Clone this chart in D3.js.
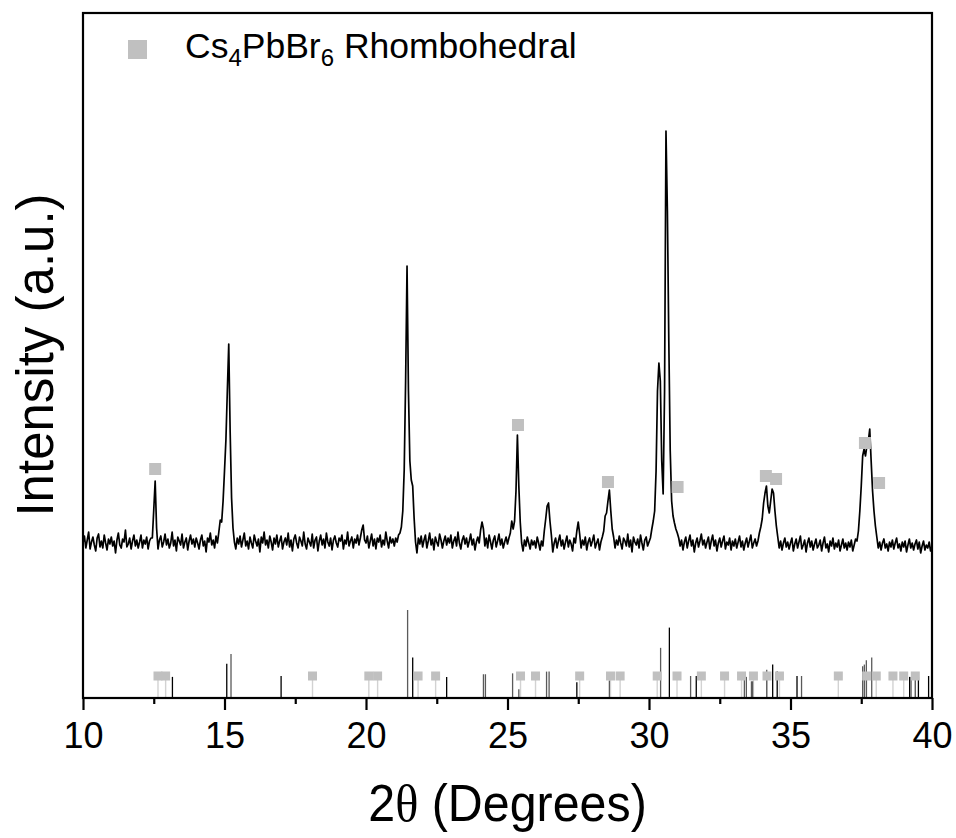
<!DOCTYPE html>
<html><head><meta charset="utf-8">
<script src="https://cdn.jsdelivr.net/npm/d3@7/dist/d3.min.js"></script>
<style>body{margin:0;background:#fff}svg{display:block}</style>
</head><body>
<svg id="chart" width="956" height="838"></svg>
<script>
// ---------------- DATA ----------------
// XRD pattern, sampled every 0.05 deg from 10.00 to 40.00 (arbitrary units)
const angleStart = 10;
const angleStep = 0.05;
const intensity = [
155,162,150,158,166,149,156,161,153,147,160,164,151,157,150,163,155,148,159,154,
161,152,157,145,158,165,153,150,159,156,168,151,154,160,149,157,163,152,158,150,
156,163,150,158,154,161,149,157,160,160,188,217,170,149,158,162,151,156,164,153,
159,150,155,166,152,158,147,161,157,153,164,150,156,160,148,157,163,154,159,151,
160,155,149,158,163,152,157,146,160,156,165,153,158,150,162,155,166,178,176,197,
227,258,307,354,266,200,170,156,149,160,154,162,151,158,165,152,157,149,161,155,
150,163,157,152,159,146,161,155,166,153,158,150,162,156,148,160,154,163,151,157,
162,149,156,160,153,165,151,158,147,159,163,155,150,161,157,152,166,154,149,160,
156,152,164,150,158,161,147,157,163,153,159,150,165,156,152,160,148,158,162,155,
151,160,157,163,149,158,154,166,152,157,161,150,159,155,163,153,160,168,173,158,
155,162,150,157,164,152,159,149,160,156,163,151,158,153,166,157,150,161,155,159,
152,160,156,163,165,171,187,228,317,432,307,237,218,212,180,156,145,160,154,162,
151,158,163,150,157,165,153,159,148,161,156,152,164,158,150,157,162,153,160,155,
163,150,157,161,152,166,155,149,158,162,154,160,151,157,164,153,159,148,156,161,
155,168,176,169,152,160,150,163,156,149,158,162,151,157,164,153,159,150,156,161,
154,160,165,177,169,177,207,263,212,176,155,147,158,152,161,155,149,158,153,157,
150,161,155,148,157,152,167,179,192,195,177,163,146,155,160,150,157,163,152,158,
149,156,162,151,158,154,147,160,155,167,176,164,150,158,153,161,148,156,160,152,
157,163,150,155,159,148,156,161,167,182,185,197,208,187,169,161,150,158,153,162,
155,149,160,157,152,164,151,158,146,161,156,153,159,150,163,155,148,158,161,152,
156,160,169,177,187,227,307,335,317,237,204,307,567,487,357,247,197,182,175,169,
165,160,152,158,148,156,161,150,157,163,152,158,146,155,160,151,157,164,153,158,
150,156,161,149,157,163,152,158,147,155,160,151,157,162,149,156,153,160,148,157,
152,159,150,156,162,151,157,148,155,160,151,157,163,150,155,159,152,157,165,171,
179,195,205,212,192,185,197,209,205,187,172,161,150,157,148,155,160,151,156,149,
155,160,147,154,159,150,156,162,149,153,158,146,155,160,151,157,148,154,159,150,
153,158,147,155,161,150,154,146,157,152,160,149,155,151,158,147,153,159,150,155,
148,156,151,158,147,153,159,157,167,187,212,242,249,242,252,257,269,237,207,187,
172,161,150,156,148,155,159,150,154,147,156,151,158,149,155,160,150,154,147,156,
151,157,146,153,159,150,155,148,154,158,149,156,145,152,157,148,153,150,156,147,
152
];

// Cs4PbBr6 (rhombohedral) markers placed on the measured peaks
const peakMarkAngle     = [12.55, 25.37, 28.55, 31.01, 34.13, 34.49, 37.63, 38.13];
const peakMarkIntensity = [229,   273,   216,   211,   222,   219,   255,   215];

// Reference stick pattern (dark sticks), relative intensity %
const refAngle     = [13.16,15.08,15.23,17.00,21.47,21.65,22.85,24.15,24.22,25.18,25.40,26.38,26.47,27.45,28.60,30.41,30.72,31.47,31.67,33.37,33.44,33.62,33.66,34.16,34.37,34.53,35.23,35.39,37.55,37.61,37.68,37.87,39.21,39.26,39.41,39.52,39.88];
const refIntensity = [24,   39,   50,   25,   100,  46,   24,   27,   27,   28,   10,   30,   30,   18,   20,   57,   80,   25,   25,   24,   24,   19,   19,   32,   38,   30,   25,   25,   36,   38,   43,   46,   24,   24,   24,   24,   25];
const refTone      = ["k","k","g","k","g","k","k","g","g","g","g","g","g","k","g","g","k","g","k","g","g","g","g","g","k","k","k","g","g","g","g","g","k","g","g","k","k"];

// Cs4PbBr6 rhombohedral reference positions (light sticks with square markers)
const cs4Angle = [12.65,12.92,18.11,20.10,20.41,21.84,22.46,25.46,25.99,27.55,28.64,28.98,30.29,30.99,31.85,32.67,33.27,33.69,34.17,34.61,36.69,37.69,38.03,38.62,39.00,39.41];
const cs4Level = 25;

const xTicks = [10, 15, 20, 25, 30, 35, 40];
const xMinorTicks = [12.5, 17.5, 22.5, 27.5, 32.5, 37.5];
const xDomain = [10, 40];
const yDomain = [0, 685];
const xTitle = ["2", "θ", " (Degrees)"];
const yTitle = "Intensity (a.u.)";
const legendParts = [["Cs", 0], ["4", 1], ["PbBr", 0], ["6", 1], [" Rhombohedral", 0]];

// ---------------- CHART ----------------
const svg = d3.select("#chart");
const L = 83, R = 932, T = 13, B = 698;
const FONT = "'Liberation Sans', Arial, Helvetica, sans-serif";
const markColor = "#c0c0c0";

const x = d3.scaleLinear().domain(xDomain).range([L, R]);
const y = d3.scaleLinear().domain(yDomain).range([B, T]);
const yStick = d3.scaleLinear().domain([0, 100]).range([B, 610]);

// Cs4PbBr6 reference sticks
svg.append("g").selectAll("line").data(cs4Angle).join("line")
  .attr("x1", d => x(d)).attr("x2", d => x(d))
  .attr("y1", B).attr("y2", yStick(cs4Level))
  .attr("stroke", "#d2d2d2").attr("stroke-width", 1.4);

// dark reference sticks
svg.append("g").selectAll("line").data(refAngle).join("line")
  .attr("x1", d => x(d)).attr("x2", d => x(d))
  .attr("y1", B).attr("y2", (d, i) => yStick(refIntensity[i]))
  .attr("stroke", (d, i) => refTone[i] === "k" ? "#000" : "#5a5a5a")
  .attr("stroke-width", 1.3);

// square markers on reference sticks
const sm = 9;
svg.append("g").selectAll("rect").data(cs4Angle).join("rect")
  .attr("x", d => x(d) - sm / 2).attr("y", yStick(cs4Level) - sm / 2)
  .attr("width", sm).attr("height", sm).attr("fill", markColor);

// XRD pattern
const pts = intensity.map((v, i) => [angleStart + i * angleStep, v]);
svg.append("path").datum(pts)
  .attr("fill", "none").attr("stroke", "#000").attr("stroke-width", 1.7)
  .attr("stroke-linejoin", "round")
  .attr("d", d3.line().x(d => x(d[0])).y(d => y(d[1])));

// markers on pattern peaks
const pm = 12;
svg.append("g").selectAll("rect").data(peakMarkAngle).join("rect")
  .attr("x", d => x(d) - pm / 2).attr("y", (d, i) => y(peakMarkIntensity[i]) - pm / 2)
  .attr("width", pm).attr("height", pm).attr("fill", markColor);

// frame
svg.append("rect").attr("x", L).attr("y", T).attr("width", R - L).attr("height", B - T)
  .attr("fill", "none").attr("stroke", "#000").attr("stroke-width", 2.2);

// bottom axis
const ax = svg.append("g").attr("transform", `translate(0,${B})`)
  .call(d3.axisBottom(x).tickValues(xTicks).tickFormat(d3.format("d"))
        .tickSize(12).tickPadding(12).tickSizeOuter(0));
ax.select(".domain").remove();
ax.selectAll(".tick line").attr("stroke", "#000").attr("stroke-width", 2.2);
ax.selectAll(".tick text").attr("font-family", FONT).attr("font-size", 36).attr("fill", "#000");
const axm = svg.append("g").attr("transform", `translate(0,${B})`)
  .call(d3.axisBottom(x).tickValues(xMinorTicks).tickFormat("").tickSize(6).tickSizeOuter(0));
axm.select(".domain").remove();
axm.selectAll(".tick line").attr("stroke", "#000").attr("stroke-width", 2.2);

// x title
const xt = svg.append("text").attr("x", 0).attr("y", 0)
  .attr("transform", `translate(${(L + R) / 2},821) scale(0.93,1)`)
  .attr("text-anchor", "middle").attr("font-family", FONT).attr("font-size", 52).attr("fill", "#000");
xt.append("tspan").text(xTitle[0]);
xt.append("tspan").attr("font-family", "'Liberation Serif', 'DejaVu Serif', serif").text(xTitle[1]);
xt.append("tspan").text(xTitle[2]);

// y title
svg.append("text").attr("transform", `translate(53,355) rotate(-90)`)
  .attr("text-anchor", "middle").attr("font-family", FONT).attr("font-size", 51).attr("fill", "#000")
  .text(yTitle);

// legend
svg.append("rect").attr("x", 128).attr("y", 40).attr("width", 19).attr("height", 19).attr("fill", markColor);
const lt = svg.append("text").attr("x", 185).attr("y", 58)
  .attr("font-family", FONT).attr("font-size", 35.5).attr("fill", "#000");
legendParts.forEach(([s, sub], i) => {
  const prev = i > 0 ? legendParts[i - 1][1] : 0;
  const ts = lt.append("tspan").text(s);
  if (sub) ts.attr("font-size", 24).attr("dy", 8);
  else if (prev) ts.attr("dy", -8);
});
</script>
</body></html>
